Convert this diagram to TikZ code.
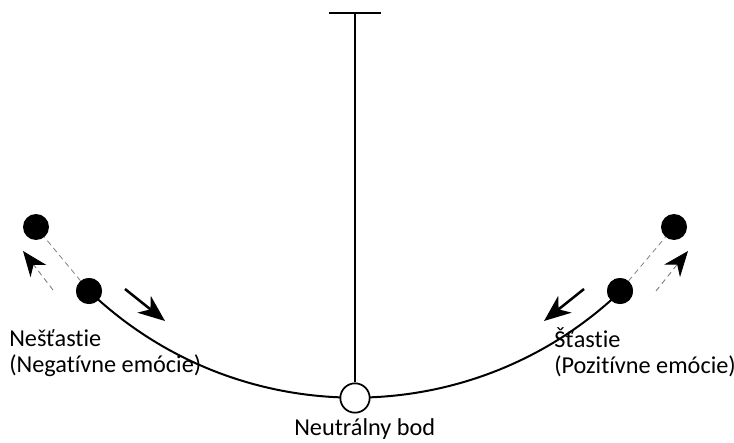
\documentclass[tikz,border=0pt]{standalone}
\usepackage{fontspec}
\setmainfont{Carlito}[Ligatures=NoCommon]
\usetikzlibrary{arrows.meta}

\begin{document}
\begin{tikzpicture}[x=0.75pt, y=-0.75pt,
  rope/.style={line width=1.5pt},
  trace/.style={gray, line width=0.6pt, dash pattern=on 4pt off 3pt},
  ball/.style={circle, fill=black, inner sep=0pt, minimum size=19.5pt},
  rest/.style={circle, draw=black, fill=white, line width=1.3pt, inner sep=0pt, minimum size=22pt},
  move/.style={line width=1.9pt, -{Stealth[length=20pt, width=16pt, inset=6pt]}},
  swing/.style={gray, line width=0.7pt, dash pattern=on 4pt off 3pt,
    -{Stealth[black, length=19pt, width=15pt, inset=6pt]}},
  lbl/.style={font=\fontsize{18.2}{18.8}\selectfont, align=left, inner sep=0pt}]
  \useasboundingbox (0,0) rectangle (734,442);

  % Coordinates
  \coordinate (P) at (355, 13);
  \coordinate (Pl) at (329, 13);
  \coordinate (Pr) at (381, 13);
  \coordinate (ls) at (125, 289);
  \coordinate (le) at (165, 321);
  \coordinate (lds) at (53, 290);
  \coordinate (lde) at (23, 251);
  \coordinate (rs) at (584, 289);
  \coordinate (re) at (544, 321);
  \coordinate (rds) at (656, 291);
  \coordinate (rde) at (688, 251);

  % Nodes
  \node[ball] (L1) at (89, 291) {};
  \node[ball] (L2) at (36, 227) {};
  \node[ball] (R1) at (620, 291) {};
  \node[ball] (R2) at (674, 227) {};

  % Drawing
  \draw[rope] (Pl) -- (Pr);
  \draw[rope] (L1.center) arc[start angle=133.7, end angle=46.3, radius=385];
  \node[rest] (N) at (355, 398) {};
  \draw[rope] (P) -- (N);
  \draw[trace] (L1) -- (L2);
  \draw[trace] (R1) -- (R2);
  \node[ball] at (L1) {};
  \node[ball] at (R1) {};
  \draw[move] (ls) -- (le);
  \draw[move] (rs) -- (re);
  \draw[swing] (lds) -- (lde);
  \draw[swing] (rds) -- (rde);

  % Labels
  \node[lbl, anchor=base west] (neg) at (9, 372) {Nešťastie\\(Negatívne emócie)};
  \node[lbl, anchor=base west] (poz) at (554, 373) {Šťastie\\(Pozitívne emócie)};
  \node[lbl, anchor=base west] (neu) at (294, 435) {Neutrálny bod};
\end{tikzpicture}
\end{document}
